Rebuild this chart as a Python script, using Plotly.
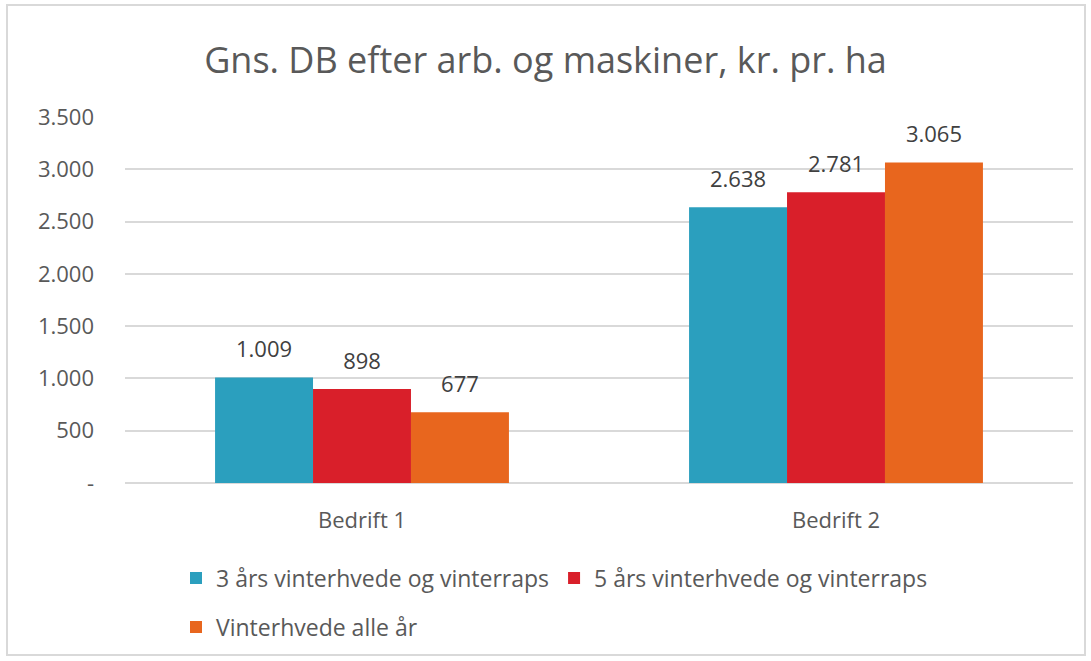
import plotly.graph_objects as go

categories = ["Bedrift 1", "Bedrift 2"]
series_names = ["3 års vinterhvede og vinterraps", "5 års vinterhvede og vinterraps", "Vinterhvede alle år"]
s1 = [1009, 2638]
s2 = [898, 2781]
s3 = [677, 3065]
tick_vals = [0, 500, 1000, 1500, 2000, 2500, 3000, 3500]
tick_text = ["-", "500", "1.000", "1.500", "2.000", "2.500", "3.000", "3.500"]

colors = ["#2B9FBE", "#D91F2A", "#E8661E"]
FONT = "Open Sans"

def fmt(v):
    return f"{v:,}".replace(",", ".")

fig = go.Figure()
for i, (name, vals) in enumerate(zip(series_names, [s1, s2, s3])):
    fig.add_trace(go.Bar(
        x=categories, y=vals, name=name,
        marker=dict(color=colors[i], line=dict(width=0)),
        offsetgroup=str(i),
        legend="legend" if i < 2 else "legend2",
        hoverinfo="skip",
    ))
for i, vals in enumerate([s1, s2, s3]):
    fig.add_trace(go.Scatter(
        x=categories, y=vals, mode="markers+text",
        offsetgroup=str(i),
        marker=dict(size=22, color="rgba(0,0,0,0)"),
        text=[fmt(v) for v in vals], textposition="top center",
        textfont=dict(size=22, color="#404040", family=FONT),
        cliponaxis=False, showlegend=False, hoverinfo="skip",
    ))

fig.update_layout(
    width=1091, height=661,
    margin=dict(l=125, r=18, t=117, b=178),
    paper_bgcolor="white", plot_bgcolor="white",
    barmode="group", bargap=0.38, bargroupgap=0,
    scattermode="group", scattergap=0.38,
    font=dict(family=FONT, color="#595959"),
    title=dict(text="Gns. DB efter arb. og maskiner, kr. pr. ha",
               x=0.5, xanchor="center", y=1 - 60 / 661, yanchor="middle",
               font=dict(size=36, color="#595959", family=FONT)),
    xaxis=dict(showgrid=False, showline=False, ticks="", ticklabelstandoff=22,
               tickfont=dict(size=22, color="#595959")),
    yaxis=dict(range=[0, 3500], tickvals=tick_vals, ticktext=tick_text,
               showgrid=True, gridcolor="#D9D9D9", gridwidth=1.5,
               zeroline=True, zerolinecolor="#D9D9D9", zerolinewidth=1.5,
               showline=False, ticks="", ticklabelstandoff=30,
               tickfont=dict(size=22, color="#595959")),
    legend=dict(orientation="h", x=(176 - 125) / 948, xanchor="left",
                y=(483 - 578) / 366, yanchor="middle",
                font=dict(size=23, color="#595959"), itemwidth=30,
                tracegroupgap=0, bgcolor="rgba(0,0,0,0)"),
    legend2=dict(orientation="h", x=(176 - 125) / 948, xanchor="left",
                 y=(483 - 627) / 366, yanchor="middle",
                 font=dict(size=23, color="#595959"), itemwidth=30,
                 bgcolor="rgba(0,0,0,0)"),
    shapes=[dict(type="rect", xref="paper", yref="paper",
                 x0=(7 - 125) / 948, x1=(1085 - 125) / 948,
                 y0=(483 - 655) / 366, y1=(483 - 5) / 366,
                 line=dict(color="#D9D9D9", width=2), fillcolor="rgba(0,0,0,0)",
                 layer="below")],
)

fig.write_html("out.html", config={"displayModeBar": False},
               post_script="document.body.style.margin='0';")
